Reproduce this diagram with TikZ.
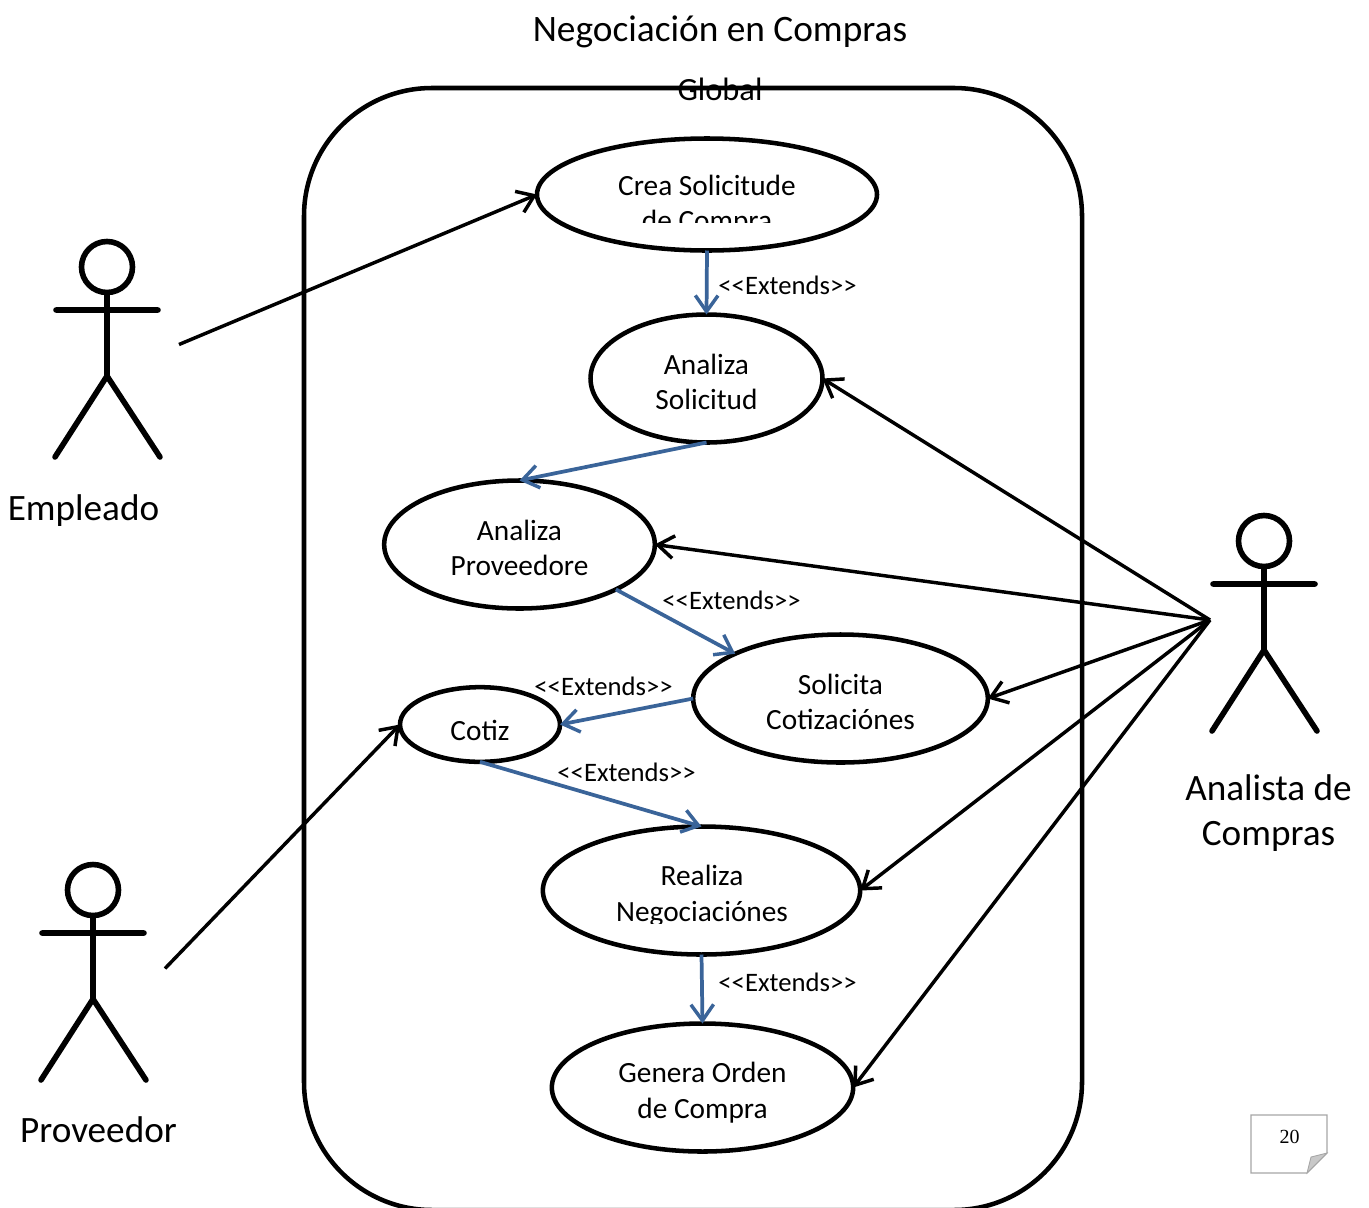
\documentclass[tikz,border=0pt]{standalone}
\usepackage{fontspec}
\setmainfont{Carlito}
\newfontfamily\pagefont{Liberation Serif}
\usetikzlibrary{shapes.geometric,arrows.meta}
\definecolor{extblue}{HTML}{3A6499}
\definecolor{foldgray}{HTML}{C8C8C8}
\definecolor{notegray}{HTML}{A6A6A6}
\tikzset{
  x=0.75pt,y=-0.75pt,
  usecase/.style={ellipse,draw=black,line width=3.4pt,inner sep=0pt,outer sep=0pt,fill=white},
  uclabel/.style={font=\fontsize{22}{26.6}\selectfont,align=center,inner sep=0pt},
  extlabel/.style={font=\fontsize{20}{24}\selectfont,inner sep=0pt},
  actorlabel/.style={font=\fontsize{27.9}{34}\selectfont,align=center,inner sep=0pt},
  barb/.style={-{Straight Barb[length=12pt,width=17pt,line width=2.6pt]}},
  assoc/.style={barb,draw=black,line width=2.6pt},
  extend/.style={barb,draw=extblue,line width=2.8pt},
  pics/stickman/.style={code={
    \draw[line width=4.2pt,black,line cap=round,line join=round]
      (0,-43) circle[radius=25.5]
      (0,-17) -- (0,66)
      (-51,0) -- (51,0)
      (-52,147) -- (0,66) -- (53,147);
  }}
}
\begin{document}
\begin{tikzpicture}
\useasboundingbox (0,0) rectangle (1369,1207);
\begin{scope}
\clip (0,0) rectangle (1369,1207);
\draw[line width=3.4pt,rounded corners=96pt] (304,88) rectangle (1082,1210);
\end{scope}

\node[font=\fontsize{28}{32}\selectfont,inner sep=0pt] (title) at (720,31.5) {Negociación en Compras};
\node[font=\fontsize{24.3}{28}\selectfont,inner sep=0pt] (global) at (720,89) {Global};

\node[usecase,minimum width=255pt,minimum height=84pt] (crea) at (707,194.5) {};
\node[usecase,minimum width=174pt,minimum height=96pt] (asol) at (706.5,378.5) {};
\node[usecase,minimum width=203pt,minimum height=96pt] (aprov) at (519.5,544.5) {};
\node[usecase,minimum width=221pt,minimum height=96pt] (soli) at (840.5,698.5) {};
\node[usecase,minimum width=120pt,minimum height=56pt] (cotiz) at (480,724.5) {};
\node[usecase,minimum width=238pt,minimum height=96pt] (real) at (701.5,890.5) {};
\node[usecase,minimum width=226pt,minimum height=96pt] (gen) at (702.5,1087.5) {};

\begin{scope}
\clip (540,150) rectangle (870,222);
\node[uclabel] (creatxt) at (707,205) {Crea Solicitude\\de Compra};
\end{scope}
\node[uclabel] (asoltxt) at (706.5,382) {Analiza\\Solicitud};
\node[uclabel] (aprovtxt) at (519.5,548) {Analiza\\Proveedore};
\node[uclabel] (solitxt) at (840.5,702) {Solicita\\Cotizaciónes};
\node[uclabel] (cotiztxt) at (480,730) {Cotiz};
\begin{scope}
\clip (545,850) rectangle (855,923);
\node[uclabel] (realtxt) at (702,896) {Realiza\\Negociaciónes};
\end{scope}
\node[uclabel] (gentxt) at (702.5,1092.5) {Genera Orden\\de Compra};

\node[extlabel] (e1) at (787.5,285) {<{}<Extends>{}>};
\node[extlabel] (e2) at (731.5,600) {<{}<Extends>{}>};
\node[extlabel] (e3) at (603.5,686) {<{}<Extends>{}>};
\node[extlabel] (e4) at (626.5,772) {<{}<Extends>{}>};
\node[extlabel] (e5) at (787.5,982) {<{}<Extends>{}>};

\pic at (107,310) {stickman};
\pic at (93,933) {stickman};
\pic at (1264,584) {stickman};

\node[actorlabel] (emp) at (83.5,511) {Empleado};
\node[actorlabel] (prov) at (98.5,1130) {Proveedor};
\node[actorlabel] (ana) at (1268.5,813) {Analista de\\Compras};

\coordinate (empend) at (179,344.5);
\coordinate (provend) at (165,968.5);
\coordinate (anaend) at (1210,620);

\draw[assoc] (empend) -- (crea.west);
\draw[assoc] (provend) -- (cotiz.west);
\draw[assoc] (anaend) -- (asol.east);
\draw[assoc] (anaend) -- (aprov.east);
\draw[assoc] (anaend) -- (soli.east);
\draw[assoc] (anaend) -- (real.east);
\draw[assoc] (anaend) -- (gen.east);

\draw[extend] (crea.south) -- (asol.north);
\draw[extend] (asol.south) -- (aprov.north);
\draw[extend] (aprov.-25) -- (soli.157);
\draw[extend] (soli.west) -- (cotiz.east);
\draw[extend] (cotiz.south) -- (real.north);
\draw[extend] (real.south) -- (gen.north);

\draw[notegray,line width=0.8pt] (1251,1115) -- (1327,1115) -- (1327,1153) -- (1307,1173) -- (1251,1173) -- cycle;
\draw[notegray,line width=0.6pt,fill=foldgray] (1307,1173) -- (1311,1157) -- (1327,1153) -- cycle;
\node[font=\pagefont\fontsize{15}{18}\selectfont,inner sep=0pt] (pagenum) at (1289.5,1137) {20};
\end{tikzpicture}
\end{document}
